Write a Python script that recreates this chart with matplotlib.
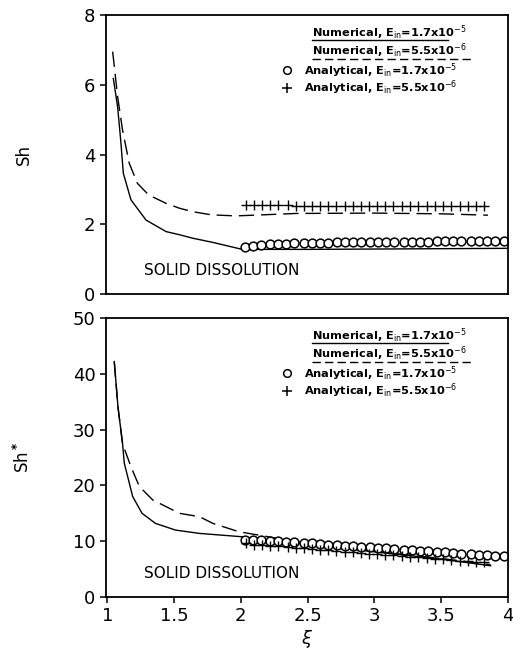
import matplotlib
matplotlib.use('Agg')
import matplotlib.pyplot as plt

# Sh vs xi, numerical curves
xi_num_a_top = [1.045, 1.077, 1.10, 1.12, 1.177, 1.29, 1.44, 1.54, 1.64, 1.79, 2.01, 2.5, 3.0, 3.5, 4.0]
sh_num_a = [6.18, 5.37, 4.42, 3.46, 2.70, 2.12, 1.79, 1.70, 1.60, 1.48, 1.28, 1.28, 1.29, 1.30, 1.31]
xi_num_b_top = [1.04, 1.077, 1.114, 1.164, 1.226, 1.31, 1.44, 1.54, 1.64, 1.78, 1.96, 2.16, 2.41, 3.0, 3.5, 3.85]
sh_num_b = [6.95, 5.66, 4.70, 3.75, 3.17, 2.84, 2.60, 2.46, 2.36, 2.27, 2.24, 2.27, 2.31, 2.32, 2.30, 2.26]

# analytical points
xi_circ = [2.03, 2.09, 2.15, 2.22, 2.28, 2.34, 2.40, 2.47, 2.53, 2.59, 2.65, 2.72, 2.78, 2.84, 2.90, 2.97,
           3.03, 3.09, 3.15, 3.22, 3.28, 3.34, 3.40, 3.47, 3.53, 3.59, 3.65, 3.72, 3.78, 3.84, 3.90, 3.97]
sh_circ = [1.35, 1.38, 1.40, 1.42, 1.43, 1.44, 1.45, 1.46, 1.46, 1.47, 1.47, 1.48, 1.48, 1.48, 1.49, 1.49,
           1.49, 1.49, 1.50, 1.50, 1.50, 1.50, 1.50, 1.51, 1.51, 1.51, 1.51, 1.51, 1.51, 1.52, 1.52, 1.52]
xi_plus = [2.04, 2.10, 2.16, 2.22, 2.28, 2.35, 2.41, 2.47, 2.53, 2.59, 2.65, 2.71, 2.78, 2.84, 2.90,
           2.96, 3.02, 3.08, 3.14, 3.21, 3.27, 3.33, 3.39, 3.45, 3.51, 3.57, 3.64, 3.70, 3.76, 3.82]
sh_plus = [2.54, 2.54, 2.54, 2.54, 2.54, 2.54, 2.53, 2.53, 2.53, 2.53, 2.53, 2.53, 2.53, 2.53, 2.53,
           2.53, 2.53, 2.53, 2.53, 2.53, 2.53, 2.52, 2.52, 2.52, 2.52, 2.52, 2.52, 2.52, 2.52, 2.52]

# Sh* vs xi
xi_num_a_bot = [1.052, 1.08, 1.114, 1.127, 1.19, 1.26, 1.36, 1.51, 1.69, 2.01, 2.5, 3.0, 3.5, 3.87]
shs_num_a = [42.2, 34.0, 27.5, 24.0, 18.0, 15.0, 13.2, 12.0, 11.4, 10.8, 9.4, 8.1, 6.8, 5.6]
xi_num_b_bot = [1.052, 1.08, 1.114, 1.176, 1.24, 1.34, 1.49, 1.54, 1.69, 1.79, 1.985, 2.5, 3.0, 3.5, 3.87]
shs_num_b = [42.2, 34.0, 27.5, 23.4, 19.8, 17.4, 15.6, 15.0, 14.4, 13.2, 11.7, 9.6, 8.2, 6.9, 5.8]
shs_circ = [10.3, 10.3, 10.2, 10.1, 10.0, 9.9, 9.8, 9.7, 9.6, 9.5, 9.4, 9.3, 9.2, 9.1, 9.0, 8.9,
            8.8, 8.7, 8.6, 8.5, 8.4, 8.3, 8.2, 8.1, 8.0, 7.9, 7.8, 7.7, 7.6, 7.5, 7.4, 7.3]
shs_plus = [9.6, 9.4, 9.3, 9.2, 9.1, 8.9, 8.8, 8.7, 8.6, 8.5, 8.4, 8.3, 8.1, 8.0, 7.9,
            7.8, 7.7, 7.6, 7.5, 7.3, 7.2, 7.1, 7.0, 6.9, 6.8, 6.7, 6.5, 6.4, 6.3, 6.2]

labels = [r'Numerical, E$_{\rm in}$=1.7x10$^{-5}$',
          r'Numerical, E$_{\rm in}$=5.5x10$^{-6}$',
          r'Analytical, E$_{\rm in}$=1.7x10$^{-5}$',
          r'Analytical, E$_{\rm in}$=5.5x10$^{-6}$']

plt.rcParams['font.family'] = ['DejaVu Sans']
plt.rcParams['mathtext.fontset'] = 'dejavusans'

fig = plt.figure(figsize=(5.13, 6.56), dpi=100)
ax1 = fig.add_axes([0.2066, 0.5518, 0.7836, 0.4253])
ax2 = fig.add_axes([0.2066, 0.0899, 0.7836, 0.4253])

def draw(ax, xa, ya, xb, yb, yc, yp):
    ax.plot(xa, ya, color='black', lw=1.0)
    ax.plot(xb, yb, color='black', lw=1.0, dashes=(11, 5))
    ax.plot(xi_circ, yc, ls='none', marker='o', ms=6.3, mfc='white', mec='black', mew=1.1)
    ax.plot(xi_plus, yp, ls='none', marker='+', ms=7.5, color='black', mew=1.0)

    # legend drawn as text lines with underlined line samples
    tr = ax.transAxes
    kw = dict(transform=tr, fontsize=8.2, fontweight='bold', va='center')
    ax.text(0.512, 0.938, labels[0], **kw)
    ax.plot([0.512, 0.852], [0.910, 0.910], transform=tr, color='black', lw=1.0)
    ax.text(0.512, 0.872, labels[1], **kw)
    ax.plot([0.512, 0.910], [0.843, 0.843], transform=tr, color='black', lw=1.0, dashes=(6, 3))
    ax.plot([0.450], [0.802], transform=tr, marker='o', ms=5.5, mfc='white', mec='black', mew=1.1)
    ax.text(0.493, 0.802, labels[2], **kw)
    ax.plot([0.450], [0.740], transform=tr, marker='+', ms=7, color='black', mew=1.1)
    ax.text(0.493, 0.740, labels[3], **kw)

    ax.text(0.095, 0.085, 'SOLID DISSOLUTION', transform=tr, fontsize=11, va='center')

    ax.set_xlim(0.99, 4.0)
    for s in ax.spines.values():
        s.set_linewidth(1.3)
    ax.tick_params(direction='out', length=4, width=1.1, labelsize=13)

draw(ax1, xi_num_a_top, sh_num_a, xi_num_b_top, sh_num_b, sh_circ, sh_plus)
draw(ax2, xi_num_a_bot, shs_num_a, xi_num_b_bot, shs_num_b, shs_circ, shs_plus)

ax1.set_ylim(0, 8)
ax1.set_yticks([0, 2, 4, 6, 8])
ax1.tick_params(axis='x', bottom=False, labelbottom=False)
ax1.set_ylabel('Sh', fontsize=12, labelpad=37)

ax2.set_ylim(0, 50)
ax2.set_yticks([0, 10, 20, 30, 40, 50])
ax2.set_xticks([1, 1.5, 2, 2.5, 3, 3.5, 4])
ax2.set_xticklabels(['1', '1.5', '2', '2.5', '3', '3.5', '4'])
ax2.set_ylabel(r'Sh$^{\bf *}$', fontsize=12, labelpad=29)
ax2.set_xlabel(r'$\xi$', fontsize=13, labelpad=2)

fig.savefig('out.png', dpi=100)
